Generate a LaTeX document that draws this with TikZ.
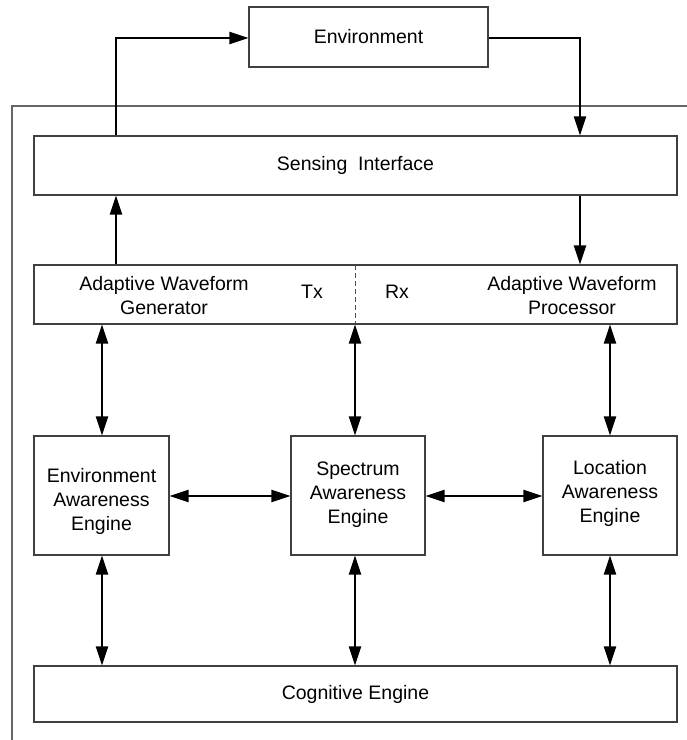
\documentclass[tikz,border=0pt]{standalone}
\usepackage{fontspec}
\setmainfont{Liberation Sans}
\usetikzlibrary{arrows.meta,calc}
\begin{document}
\begin{tikzpicture}[x=1pt,y=-1pt,
  box/.style={draw=black!75,line width=1.1pt,fill=white,inner sep=0pt,anchor=center},
  lbl/.style={font=\fontsize{19.5}{24}\selectfont,align=center,inner sep=0pt},
  arr/.style={line width=2pt,-{Triangle[length=19pt,width=12pt]}},
  dbl/.style={line width=2pt,{Triangle[length=19pt,width=12pt]}-{Triangle[length=19pt,width=12pt]}},
  frame/.style={draw=black!60,line width=1.4pt}]
\useasboundingbox (0,0) rectangle (687,740);
% outer frame
\coordinate (fr1) at (687,106);
\coordinate (fr2) at (12,106);
\coordinate (fr3) at (12,741);
\draw[frame] (fr1) -- (fr2) -- (fr3);
% boxes
\node[box,minimum width=239pt,minimum height=60pt] (env) at (368.5,37) {};
\node[box,minimum width=643pt,minimum height=59pt] (sens) at (355.5,165.5) {};
\node[box,minimum width=643pt,minimum height=59pt] (aw) at (355.5,294.5) {};
\node[box,minimum width=135pt,minimum height=119pt] (envE) at (101.5,495.5) {};
\node[box,minimum width=134pt,minimum height=119pt] (specE) at (358,495.5) {};
\node[box,minimum width=134pt,minimum height=119pt] (locE) at (610,495.5) {};
\node[box,minimum width=643pt,minimum height=56pt] (cog) at (355.5,694) {};
% labels
\node[lbl] (envT) at (env.center) {Environment};
\node[lbl] (sensT) at (sens.center) {Sensing\; Interface};
\node[lbl] (cogT) at (cog.center) {Cognitive Engine};
\node[lbl] (awgT) at (164,295.5) {Adaptive Waveform\\Generator};
\node[lbl] (awpT) at (572,295.5) {Adaptive Waveform\\Processor};
\node[lbl] (txT) at (312,292) {Tx};
\node[lbl] (rxT) at (397,292) {Rx};
\node[lbl] (envET) at (101.5,501) {Environment\\Awareness\\Engine};
\node[lbl] (specET) at (358,495) {Spectrum\\Awareness\\Engine};
\node[lbl] (locET) at (610,493) {Location\\Awareness\\Engine};
% dashed divider
\coordinate (dv1) at (355,265);
\coordinate (dv2) at (355,324);
\draw[black!70,line width=0.9pt,dash pattern=on 5pt off 3pt] (dv1) -- (dv2);
% top loop
\coordinate (c1) at (116,38);
\coordinate (c2) at (580,38);
\draw[arr] (sens.north -| c1) -- (c1) -- (env.west |- c1);
\draw[arr] (env.east |- c2) -- (c2) -- (sens.north -| c2);
% sensing <-> aw
\coordinate (c3) at (116,0);
\draw[arr] (aw.north -| c3) -- (sens.south -| c3);
\draw[arr] (sens.south -| c2) -- (aw.north -| c2);
% aw <-> engines
\coordinate (x1) at (102,0);
\coordinate (x2) at (355,0);
\coordinate (x3) at (610,0);
\draw[dbl] (aw.south -| x1) -- (envE.north -| x1);
\draw[dbl] (aw.south -| x2) -- (specE.north -| x2);
\draw[dbl] (aw.south -| x3) -- (locE.north -| x3);
% engines horizontal
\coordinate (y1) at (0,496);
\draw[dbl] (envE.east |- y1) -- (specE.west |- y1);
\draw[dbl] (specE.east |- y1) -- (locE.west |- y1);
% engines <-> cognitive
\draw[dbl] (envE.south -| x1) -- (cog.north -| x1);
\draw[dbl] (specE.south -| x2) -- (cog.north -| x2);
\draw[dbl] (locE.south -| x3) -- (cog.north -| x3);
\end{tikzpicture}
\end{document}
